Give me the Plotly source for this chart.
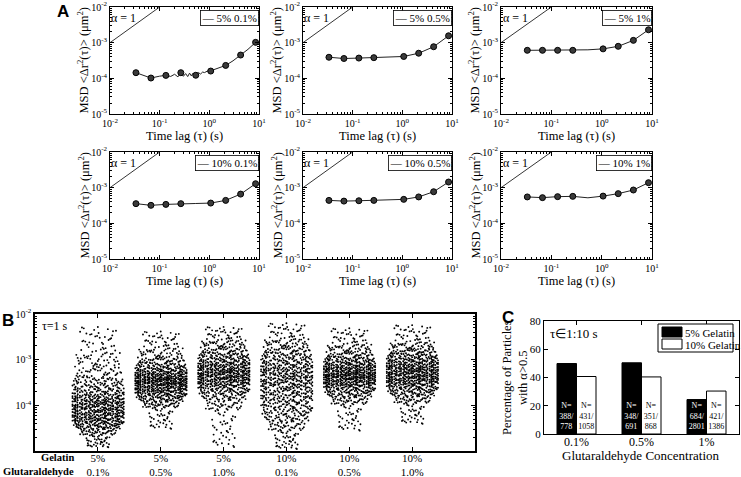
import plotly.graph_objects as go

W, H = 741, 477
def fx(x): return x / W
def fy(y): return 1 - y / H

SERIF = "Liberation Serif"
SANS = "Liberation Sans"

# ---------------- Panel A data ----------------
tau_pts = [0.0333, 0.0667, 0.1333, 0.2667, 0.5333, 1.0667, 2.1333, 4.2667, 8.5333]
legend_A = ["5% 0.1%", "5% 0.5%", "5% 1%", "10% 0.1%", "10% 0.5%", "10% 1%"]

# 5% gelatin / 0.1% glutaraldehyde: noisy line
tau_line_g5_01 = [0.0333, 0.0667, 0.1, 0.1333, 0.1667, 0.2, 0.2333, 0.2667, 0.3, 0.3333, 0.3667,
                  0.4, 0.4333, 0.4667, 0.5, 0.5333, 0.6, 0.6667, 0.7333, 0.8, 0.9, 1.0667, 1.5,
                  2.1333, 3.0, 4.2667, 6.0, 8.5333]
msd_line_g5_01 = [1.44e-4, 1.02e-4, 1.15e-4, 1.21e-4, 1.13e-4, 1.30e-4, 1.10e-4, 1.44e-4, 1.14e-4,
                  1.36e-4, 1.12e-4, 1.40e-4, 1.17e-4, 1.38e-4, 1.15e-4, 1.24e-4, 1.45e-4, 1.32e-4,
                  1.50e-4, 1.45e-4, 1.58e-4, 1.63e-4, 1.90e-4, 2.30e-4, 3.10e-4, 4.50e-4, 6.50e-4,
                  1.02e-3]
msd_pts_g5_01 = [1.44e-4, 1.02e-4, 1.21e-4, 1.44e-4, 1.22e-4, 1.60e-4, 2.30e-4, 4.50e-4, 1.02e-3]

msd_g5_05 = [3.9e-4, 3.6e-4, 3.7e-4, 3.8e-4, 3.9e-4, 4.1e-4, 5.06e-4, 7.7e-4, 1.56e-3]
msd_g5_10 = [6.1e-4, 6.1e-4, 6.1e-4, 6.1e-4, 6.3e-4, 6.7e-4, 7.9e-4, 1.16e-3, 2.3e-3]
msd_g10_01 = [3.56e-4, 3.2e-4, 3.4e-4, 3.56e-4, 3.6e-4, 3.7e-4, 4.4e-4, 6.6e-4, 1.29e-3]
msd_g10_05 = [4.4e-4, 4.2e-4, 4.3e-4, 4.4e-4, 4.5e-4, 4.7e-4, 5.5e-4, 7.7e-4, 1.44e-3]
msd_g10_10 = [5.5e-4, 5.25e-4, 5.6e-4, 5.7e-4, 5.2e-4, 5.8e-4, 6.8e-4, 8.6e-4, 1.38e-3]
marker_mask = [1, 1, 1, 1, 0, 1, 1, 1, 1]

alpha_tau = [0.01, 0.1]
alpha_msd = [1e-3, 1e-2]

# ---------------- Panel B data (log10 MSD quantiles, 0..100% by 5%) ----------------
group_x = [1, 2, 3, 4, 5, 6]
gelatin_lbl = ["5%", "5%", "5%", "10%", "10%", "10%"]
glut_lbl = ["0.1%", "0.5%", "1.0%", "0.1%", "0.5%", "1.0%"]
q_g5_01 = [-4.92, -4.65, -4.52, -4.44, -4.37, -4.31, -4.25, -4.19, -4.13, -4.07, -4.01,
           -3.95, -3.89, -3.82, -3.74, -3.64, -3.52, -3.38, -3.15, -2.85, -2.28]
q_g5_05 = [-4.52, -4.05, -3.92, -3.83, -3.76, -3.70, -3.65, -3.60, -3.55, -3.51, -3.47,
           -3.43, -3.39, -3.34, -3.29, -3.23, -3.16, -3.07, -2.95, -2.75, -2.38]
q_g5_10 = [-4.92, -4.10, -3.88, -3.75, -3.66, -3.58, -3.52, -3.46, -3.41, -3.36, -3.31,
           -3.26, -3.21, -3.15, -3.09, -3.02, -2.94, -2.85, -2.73, -2.58, -2.28]
q_g10_01 = [-4.96, -4.55, -4.35, -4.20, -4.07, -3.95, -3.84, -3.74, -3.64, -3.55, -3.47,
            -3.39, -3.31, -3.23, -3.15, -3.06, -2.96, -2.85, -2.72, -2.55, -2.20]
q_g10_05 = [-4.56, -3.98, -3.82, -3.72, -3.64, -3.57, -3.52, -3.47, -3.42, -3.38, -3.34,
            -3.30, -3.25, -3.20, -3.15, -3.09, -3.02, -2.94, -2.83, -2.67, -2.31]
q_g10_10 = [-4.41, -3.95, -3.80, -3.70, -3.62, -3.55, -3.49, -3.44, -3.39, -3.34, -3.29,
            -3.24, -3.19, -3.14, -3.08, -3.02, -2.95, -2.87, -2.77, -2.62, -2.24]
cloud_width = [0.45, 0.7, 0.85, 0.95, 1, 1, 1, 1, 1, 1, 1, 1, 1, 1, 1, 1, 0.95, 0.9, 0.85, 0.7]
jit_x = [0.12, 0.87, 0.45, 0.63, 0.05, 0.71, 0.33, 0.94, 0.58, 0.21, 0.79, 0.40, 0.02, 0.66,
         0.29, 0.91, 0.50, 0.16, 0.83, 0.37, 0.69, 0.08, 0.55, 0.97, 0.25, 0.74, 0.43, 0.11,
         0.86, 0.61, 0.19, 0.48, 0.77, 0.35, 0.99, 0.07, 0.52, 0.89, 0.27, 0.64]
jit_y = [0.53, 0.18, 0.91, 0.36, 0.72, 0.04, 0.61, 0.27, 0.85, 0.44, 0.13, 0.97, 0.58, 0.31,
         0.76, 0.09, 0.49, 0.67, 0.22, 0.88, 0.40, 0.01, 0.81, 0.34, 0.63, 0.15, 0.94, 0.47,
         0.70, 0.25, 0.56, 0.83, 0.07, 0.39, 0.99, 0.20, 0.74, 0.43, 0.11, 0.65]

# ---------------- Panel C data ----------------
glut_conc = ["0.1%", "0.5%", "1%"]
pct_5gel = [49.9, 50.4, 24.4]
pct_10gel = [40.7, 40.4, 30.4]
n_5gel = ["388/<br>778", "348/<br>691", "684/<br>2801"]
n_10gel = ["431/<br>1058", "351/<br>868", "421/<br>1386"]

fig = go.Figure()
layout = {}
annotations = []
shapes = []

def axis_common():
    return dict(showline=True, linecolor="black", linewidth=1, mirror="allticks",
                ticks="inside", ticklen=4, tickcolor="black", showgrid=False, zeroline=False,
                automargin=False, tickfont=dict(family=SERIF, size=10, color="black"))

def sup(e):
    return "10<sup>%d</sup>" % e

def note(x, y, text, size, xanchor="center", family=SERIF, angle=0, **kw):
    d = dict(x=fx(x), y=fy(y), xref="paper", yref="paper", text=text, showarrow=False,
             xanchor=xanchor, yanchor="middle", textangle=angle,
             font=dict(family=family, size=size, color="black"))
    d.update(kw)
    annotations.append(d)

cols_px = [(110, 259), (303, 452), (501, 652)]
rows_px = [(7, 114), (152, 259)]

line_sets = [None, msd_g5_05, msd_g5_10, msd_g10_01, msd_g10_05, msd_g10_10]

for k in range(6):
    r, c = divmod(k, 3)
    idx = k + 1
    xa = "xaxis" if idx == 1 else "xaxis%d" % idx
    ya = "yaxis" if idx == 1 else "yaxis%d" % idx
    xr = "x" if idx == 1 else "x%d" % idx
    yr = "y" if idx == 1 else "y%d" % idx
    x0, x1 = cols_px[c]
    y0, y1 = rows_px[r]
    ax = axis_common()
    ax.update(type="log", range=[-2, 1], domain=[fx(x0), fx(x1)], anchor=yr,
              tickvals=[0.01, 0.1, 1, 10], ticktext=[sup(-2), sup(-1), sup(0), sup(1)],
              minor=dict(ticks="inside", ticklen=2, tickcolor="black", dtick="D1"))
    ay = axis_common()
    ay.update(type="log", range=[-5, -2], domain=[fy(y1), fy(y0)], anchor=xr,
              tickvals=[1e-5, 1e-4, 1e-3, 1e-2], ticktext=[sup(-5), sup(-4), sup(-3), sup(-2)],
              minor=dict(ticks="inside", ticklen=2, tickcolor="black", dtick="D1"))
    layout[xa] = ax
    layout[ya] = ay

    # alpha = 1 reference line
    fig.add_trace(go.Scatter(x=alpha_tau, y=alpha_msd, mode="lines",
                             line=dict(color="black", width=0.8), xaxis=xr, yaxis=yr,
                             showlegend=False, hoverinfo="skip"))
    if k == 0:
        lx, lyv = tau_line_g5_01, msd_line_g5_01
        mx, my = tau_pts, msd_pts_g5_01
    else:
        vals = line_sets[k]
        lx, lyv = tau_pts, vals
        mx = [t for t, m in zip(tau_pts, marker_mask) if m]
        my = [v for v, m in zip(vals, marker_mask) if m]
    fig.add_trace(go.Scatter(x=lx, y=lyv, mode="lines", line=dict(color="#222", width=1),
                             xaxis=xr, yaxis=yr, showlegend=False))
    fig.add_trace(go.Scatter(x=mx, y=my, mode="markers",
                             marker=dict(symbol="circle", size=6, color="#3a3a3a",
                                         line=dict(color="black", width=1)),
                             xaxis=xr, yaxis=yr, showlegend=False))
    # alpha label
    annotations.append(dict(x=-1.72, y=-2.3, xref=xr, yref=yr, text="α = 1", showarrow=False,
                            xanchor="center", yanchor="middle",
                            font=dict(family=SERIF, size=12, color="black")))
    # legend box
    annotations.append(dict(x=fx(x1 - 0.5), y=fy(y0 + 3), xref="paper", yref="paper",
                            xanchor="right", yanchor="top", showarrow=False,
                            text="— " + legend_A[k], bgcolor="white", bordercolor="black",
                            borderwidth=0.8, borderpad=1,
                            font=dict(family=SERIF, size=11, color="black")))
    # axis titles
    note((x0 + x1) / 2, y1 + 22, "Time lag (τ) (s)", 12.5)
    note(x0 - 27, (y0 + y1) / 2, "MSD &lt;Δr<sup>2</sup>(τ)&gt; (μm<sup>2</sup>)", 12.5, angle=-90)

# ---------------- Panel B ----------------
qsets = [q_g5_01, q_g5_05, q_g5_10, q_g10_01, q_g10_05, q_g10_10]
bx, by = [], []
for g, q in zip(group_x, qsets):
    for i in range(len(q) - 1):
        for j in range(len(jit_x)):
            jx = jit_x[(j + 11 * i) % len(jit_x)]
            jy = jit_y[(3 * j + 7 * i) % len(jit_y)]
            bx.append(g + 0.42 * cloud_width[i] * (2 * jx - 1))
            by.append(10 ** (q[i] + (q[i + 1] - q[i]) * jy))
fig.add_trace(go.Scatter(x=bx, y=by, mode="markers", marker=dict(color="black", size=1.9),
                         xaxis="x7", yaxis="y7", showlegend=False, hoverinfo="skip"))
ax = axis_common()
ax.update(range=[0, 7], domain=[fx(35), fx(475)], anchor="y7", linewidth=1.5,
          ticklabelstandoff=-4, tickfont=dict(family=SERIF, size=11, color="black"),
          tickvals=group_x, ticktext=["%s<br>%s" % (a, b) for a, b in zip(gelatin_lbl, glut_lbl)])
ay = axis_common()
ay.update(type="log", range=[-5, -2], domain=[fy(451), fy(314)], anchor="x7", linewidth=1.5,
          tickvals=[1e-4, 1e-3, 1e-2], ticktext=[sup(-4), sup(-3), sup(-2)],
          minor=dict(ticks="inside", ticklen=2, tickcolor="black", dtick="D1"))
layout["xaxis7"] = ax
layout["yaxis7"] = ay
note(76, 457, "<b>Gelatin</b>", 10.5, xanchor="right")
note(76, 471, "<b>Glutaraldehyde</b>", 10.5, xanchor="right")
note(40, 326, "τ=1 s", 12, xanchor="left")

# ---------------- Panel C ----------------
fig.add_trace(go.Bar(x=[0, 1, 2], y=pct_5gel, name="5% Gelatin",
                     marker=dict(color="black", line=dict(color="black", width=1)),
                     text=["N=<br>" + s for s in n_5gel], textposition="inside",
                     insidetextanchor="start", constraintext="none", textangle=0,
                     insidetextfont=dict(family=SERIF, size=8, color="white"),
                     xaxis="x8", yaxis="y8", showlegend=False))
fig.add_trace(go.Bar(x=[0, 1, 2], y=pct_10gel, name="10% Gelatin",
                     marker=dict(color="white", line=dict(color="black", width=1)),
                     text=["N=<br>" + s for s in n_10gel], textposition="inside",
                     insidetextanchor="start", constraintext="none", textangle=0,
                     insidetextfont=dict(family=SERIF, size=8, color="black"),
                     xaxis="x8", yaxis="y8", showlegend=False))
ax = axis_common()
ax.update(range=[-0.5, 2.5], domain=[fx(544), fx(739)], anchor="y8", ticklabelstandoff=-3,
          tickvals=[0, 1, 2], ticktext=glut_conc, tickfont=dict(family=SERIF, size=12, color="black"))
ay = axis_common()
ay.update(range=[0, 80], domain=[fy(434), fy(321)], anchor="x8", dtick=20,
          tickfont=dict(family=SERIF, size=11, color="black"))
layout["xaxis8"] = ax
layout["yaxis8"] = ay
note(641, 455, "Glutaraldehyde Concentration", 13)
note(515, 378, "Percentage of Particles<br>with α&gt;0.5", 12.5, angle=-90)
note(548, 333, "τ∈1:10 s", 13, xanchor="left")
# legend of panel C
shapes.append(dict(type="rect", xref="paper", yref="paper", x0=fx(658), x1=fx(733),
                   y0=fy(352), y1=fy(324), line=dict(color="black", width=1), fillcolor="white"))
shapes.append(dict(type="rect", xref="paper", yref="paper", x0=fx(662), x1=fx(682),
                   y0=fy(337), y1=fy(327), line=dict(color="black", width=1), fillcolor="black"))
shapes.append(dict(type="rect", xref="paper", yref="paper", x0=fx(662), x1=fx(682),
                   y0=fy(349), y1=fy(339), line=dict(color="black", width=1), fillcolor="white"))
note(683, 332.5, "5% Gelatin", 11, xanchor="left")
note(683, 344.5, "10% Gelatin", 11, xanchor="left")

# panel letters
for letter, (lx_, ly_) in zip(["A", "B", "C"], [(63, 12), (8, 320), (508, 317)]):
    note(lx_, ly_, "<b>%s</b>" % letter, 17, family=SANS)

fig.update_layout(template="none", width=W, height=H, autosize=False,
                  margin=dict(l=0, r=0, t=0, b=0, pad=0),
                  paper_bgcolor="white", plot_bgcolor="white", barmode="group",
                  bargap=0.4, bargroupgap=0, annotations=annotations, shapes=shapes,
                  font=dict(family=SERIF, color="black"), **layout)
fig.write_html("out.html", config={"displayModeBar": False},
               post_script="document.body.style.margin='0px';document.body.style.overflow='hidden';")
